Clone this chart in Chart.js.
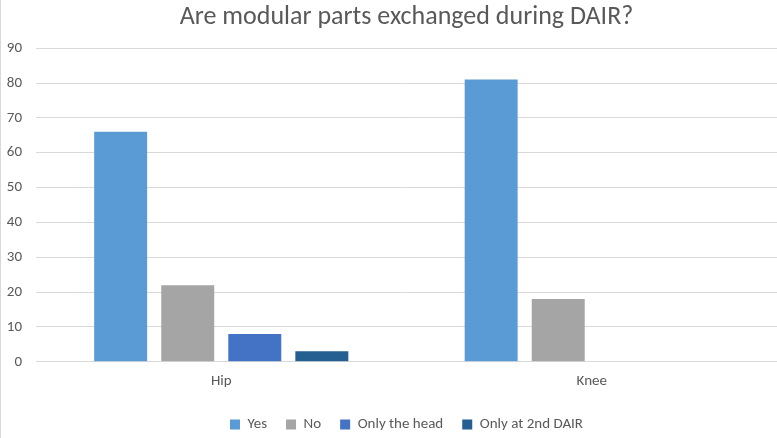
<!DOCTYPE html>
<html>
<head>
<meta charset="utf-8">
<script src="https://cdn.jsdelivr.net/npm/chart.js@4/dist/chart.umd.min.js"></script>
<style>
  html, body { margin: 0; padding: 0; background: #fff; }
  #wrap { width: 777px; height: 438px; }
</style>
</head>
<body>
<div id="wrap"><canvas id="chart" width="777" height="438"></canvas></div>
<script>
const categories = ["Hip", "Knee"];
const yesValues = [66, 81];
const noValues = [22, 18];
const headValues = [8, 0];
const secondDairValues = [3, 0];
const yTicks = [0, 10, 20, 30, 40, 50, 60, 70, 80, 90];

const textColor = "#595959";
const gridColor = "#D9D9D9";
const fontFamily = "Carlito, Calibri, 'Liberation Sans', 'DejaVu Sans', sans-serif";

// thin frame line on the left edge, like the exported chart area
const leftEdge = {
  id: "leftEdge",
  afterDraw(chart) {
    const c = chart.ctx;
    c.save();
    c.strokeStyle = gridColor;
    c.lineWidth = 1;
    c.beginPath();
    c.moveTo(0.5, 0);
    c.lineTo(0.5, chart.height);
    c.stroke();
    c.restore();
  }
};

const ctx = document.getElementById("chart");

new Chart(ctx.getContext("2d"), {
  type: "bar",
  data: {
    labels: categories,
    datasets: [
      { label: "Yes", data: yesValues, backgroundColor: "#5B9BD5" },
      { label: "No", data: noValues, backgroundColor: "#A5A5A5" },
      { label: "Only the head", data: headValues, backgroundColor: "#4472C4" },
      { label: "Only at 2nd DAIR", data: secondDairValues, backgroundColor: "#255E91" }
    ]
  },
  plugins: [leftEdge],
  options: {
    responsive: false,
    animation: false,
    categoryPercentage: 0.724,
    barPercentage: 0.79,
    layout: { padding: { left: 0, right: 0, top: 2, bottom: -4 } },
    plugins: {
      title: {
        display: true,
        fullSize: false,
        text: "Are modular parts exchanged during DAIR?",
        color: textColor,
        font: { family: fontFamily, size: 26, weight: "normal" },
        padding: { top: 0, bottom: 15 }
      },
      legend: {
        position: "bottom",
        fullSize: false,
        title: { display: true, text: " ", font: { size: 1 }, padding: 2.5 },
        labels: {
          color: textColor,
          font: { family: fontFamily, size: 15 },
          boxWidth: 10,
          boxHeight: 10,
          padding: 19
        }
      },
      tooltip: { enabled: false }
    },
    scales: {
      x: {
        grid: { display: false },
        border: { display: false },
        ticks: { color: textColor, font: { family: fontFamily, size: 15 }, padding: 2 }
      },
      y: {
        min: 0,
        max: 90,
        afterBuildTicks: s => { s.ticks = yTicks.map(v => ({ value: v })); },
        afterFit: s => { s.width = 36; },
        grid: { color: gridColor, drawTicks: false },
        border: { display: false },
        ticks: { color: textColor, font: { family: fontFamily, size: 15 }, padding: 14 }
      }
    }
  }
});
</script>
</body>
</html>
